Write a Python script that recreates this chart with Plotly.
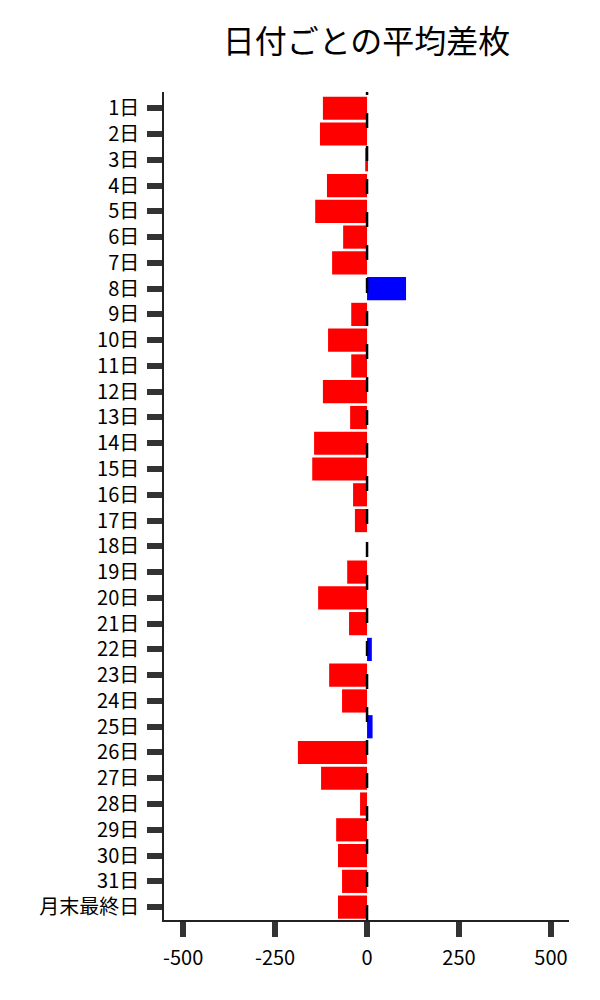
import plotly.graph_objects as go

days = [f"{i}日" for i in range(1, 32)] + ["月末最終日"]
avg_diff = [-120, -128, -5, -109, -141, -65, -95, 106, -43, -106, -43, -120, -46, -144, -149, -38,
            -33, 0, -54, -133, -49, 13, -103, -68, 15, -188, -125, -19, -84, -79, -68, -79]
x_ticks = [-500, -250, 0, 250, 500]

colors = ["#0000FF" if v > 0 else "#FF0000" for v in avg_diff]

font_family = "Noto Sans CJK JP"

fig = go.Figure(go.Bar(
    x=avg_diff, y=days, orientation="h",
    marker=dict(color=colors, line=dict(width=0)),
))

fig.add_shape(type="line", xref="x", yref="paper", x0=0, x1=0, y0=0, y1=1,
              line=dict(color="black", width=2.5, dash="15px,18px"), layer="above")

fig.update_layout(
    width=600, height=1000,
    margin=dict(l=156, r=39, t=84, b=88),
    paper_bgcolor="white", plot_bgcolor="white",
    title=dict(text="日付ごとの平均差枚", x=0.5, xref="paper", xanchor="center",
               y=1 - 34 / 1000, yanchor="middle",
               font=dict(family=font_family, size=32, color="black")),
    font=dict(family=font_family, size=20, color="black"),
    bargap=0.1,
    showlegend=False,
)
fig.update_xaxes(range=[-552, 549], tickvals=x_ticks, ticktext=[str(t) for t in x_ticks],
                 showgrid=False, zeroline=False, showline=True, linecolor="#222", linewidth=1.5,
                 ticks="outside", ticklen=15, tickwidth=6, tickcolor="#333",
                 ticklabelstandoff=4)
fig.update_yaxes(range=[len(days) - 0.5, -0.63], showgrid=False, zeroline=False, showline=True,
                 linecolor="#222", linewidth=1.5,
                 ticks="outside", ticklen=15, tickwidth=6, tickcolor="#333",
                 ticklabelstandoff=4)

fig.write_html("out.html")
